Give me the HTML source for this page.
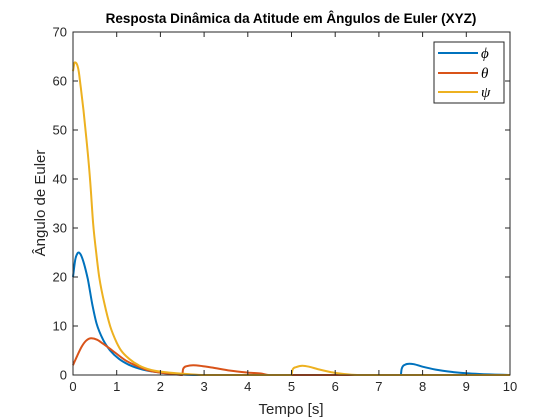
<!DOCTYPE html>
<html><head><meta charset="utf-8"><style>
body{margin:0;background:#fff;}
svg{display:block;font-family:"Liberation Sans",sans-serif;}
</style></head><body>
<svg id="chart" width="560" height="420" viewBox="0 0 560 420">
<rect x="0" y="0" width="560" height="420" fill="#fff"/>
<g id="marks"></g>
<g id="axes"></g>
<text x="291" y="23" text-anchor="middle" font-size="13.5" font-weight="bold" fill="#000">Resposta Dinâmica da Atitude em Ângulos de Euler (XYZ)</text>
<text x="291" y="414" text-anchor="middle" font-size="15" fill="#262626">Tempo [s]</text>
<text transform="translate(45,203) rotate(-90)" text-anchor="middle" font-size="15" fill="#262626">Ângulo de Euler</text>
<g>
<rect x="434" y="42" width="70" height="61" fill="#fff" stroke="#262626" stroke-width="1"/>
<line x1="438" y1="53" x2="478" y2="53" stroke="#0072BD" stroke-width="2"/>
<text x="481" y="58" font-family="Liberation Serif,serif" font-style="italic" font-size="15">ϕ</text>
<line x1="438" y1="73" x2="478" y2="73" stroke="#D95319" stroke-width="2"/>
<text x="481" y="78" font-family="Liberation Serif,serif" font-style="italic" font-size="15">θ</text>
<line x1="438" y1="92" x2="478" y2="92" stroke="#EDB120" stroke-width="2"/>
<text x="481" y="97" font-family="Liberation Serif,serif" font-style="italic" font-size="15">ψ</text>
</g>
</svg>
<script>
const xTicks=[0,1,2,3,4,5,6,7,8,9,10];
const yTicks=[0,10,20,30,40,50,60,70];
const phiT=[0,0.05,0.1,0.13,0.18,0.25,0.34,0.44,0.54,0.7,0.85,1.05,1.3,1.6,2.0,2.5,3.0,7.5,7.52,7.6,7.7,7.8,8.0,8.3,8.7,9.0,9.3,10];
const phiV=[20,23.5,24.8,25,24.5,22.8,19.5,14.5,10.5,7,5,3.3,2,1.1,0.5,0.1,0,0,1.2,2.1,2.3,2.2,1.7,1.1,0.6,0.35,0.2,0];
const thetaT=[0,0.1,0.2,0.3,0.42,0.55,0.7,0.9,1.2,1.5,1.7,2.0,2.2,2.5,2.52,2.6,2.75,2.9,3.2,3.6,4.0,4.3,4.5,10];
const thetaV=[2,4,5.8,7,7.5,7.2,6.3,5,3,1.7,1,0.5,0.3,0,1.2,1.8,2,1.9,1.5,0.9,0.5,0.3,0,0];
const psiT=[0,0.04,0.08,0.13,0.18,0.24,0.31,0.39,0.46,0.53,0.6,0.72,0.85,1.0,1.1,1.3,1.5,1.8,2.2,2.6,3.0,5.0,5.02,5.1,5.25,5.4,5.6,5.9,6.2,6.5,10];
const psiV=[62,63.8,63.6,62,58.5,54,48,40,31,25,20,14.5,10,6.6,5,3.2,2,1,0.5,0.2,0,0,1,1.6,1.9,1.7,1.2,0.6,0.2,0,0];
const X=v=>73+v*43.7, Y=v=>375-v*4.9;
const NS='http://www.w3.org/2000/svg';
const marks=document.getElementById('marks'), axes=document.getElementById('axes');
function monoPath(xs,ys){
  const n=xs.length, d=[], m=[];
  for(let i=0;i<n-1;i++) d.push((ys[i+1]-ys[i])/(xs[i+1]-xs[i]));
  m[0]=d[0]; m[n-1]=d[n-2];
  for(let i=1;i<n-1;i++){ m[i]=(d[i-1]*d[i]<=0)?0:(d[i-1]+d[i])/2; }
  for(let i=0;i<n-1;i++){ if(d[i]===0){m[i]=0;m[i+1]=0;continue;}
    const a=m[i]/d[i], b=m[i+1]/d[i], s=a*a+b*b;
    if(s>9){const t=3/Math.sqrt(s); m[i]=t*a*d[i]; m[i+1]=t*b*d[i];} }
  let p='M'+xs[0].toFixed(1)+','+ys[0].toFixed(1);
  for(let i=0;i<n-1;i++){ const h=(xs[i+1]-xs[i])/3;
    p+=' C'+(xs[i]+h).toFixed(1)+','+(ys[i]+m[i]*h).toFixed(1)+' '+(xs[i+1]-h).toFixed(1)+','+(ys[i+1]-m[i+1]*h).toFixed(1)+' '+xs[i+1].toFixed(1)+','+ys[i+1].toFixed(1);}
  return p;
}
function series(t,v,color,name){
  const p=document.createElementNS(NS,'path');
  p.setAttribute('d',monoPath(t.map(X),v.map(Y)));
  p.setAttribute('fill','none');p.setAttribute('stroke',color);p.setAttribute('stroke-width','2');p.setAttribute('stroke-linejoin','round');
  
  
  marks.appendChild(p);
}
series(phiT,phiV,'#0072BD','series-phi');
series(thetaT,thetaV,'#D95319','series-theta');
series(psiT,psiV,'#EDB120','series-psi');
const box=document.createElementNS(NS,'rect');
box.setAttribute('x',73);box.setAttribute('y',32);box.setAttribute('width',437);box.setAttribute('height',343);
box.setAttribute('fill','none');box.setAttribute('stroke','#262626');box.setAttribute('stroke-width','1');


axes.appendChild(box);
xTicks.forEach(v=>{
  [[375,370],[32,37]].forEach(([a,b])=>{const l=document.createElementNS(NS,'line');
  l.setAttribute('x1',X(v));l.setAttribute('x2',X(v));l.setAttribute('y1',a);l.setAttribute('y2',b);l.setAttribute('stroke','#262626');
  
  
  axes.appendChild(l);});
  const t=document.createElementNS(NS,'text');t.setAttribute('x',X(v));t.setAttribute('y',391);t.setAttribute('text-anchor','middle');t.setAttribute('font-size','13');t.setAttribute('fill','#262626');t.textContent=v;
  
  
  axes.appendChild(t);
});
yTicks.forEach(v=>{
  [[73,78],[510,505]].forEach(([a,b])=>{const l=document.createElementNS(NS,'line');
  l.setAttribute('x1',a);l.setAttribute('x2',b);l.setAttribute('y1',Y(v));l.setAttribute('y2',Y(v));l.setAttribute('stroke','#262626');
  
  
  axes.appendChild(l);});
  const t=document.createElementNS(NS,'text');t.setAttribute('x',67);t.setAttribute('y',Y(v)+4.5);t.setAttribute('text-anchor','end');t.setAttribute('font-size','13');t.setAttribute('fill','#262626');t.textContent=v;
  
  
  axes.appendChild(t);
});
</script>
</body></html>
